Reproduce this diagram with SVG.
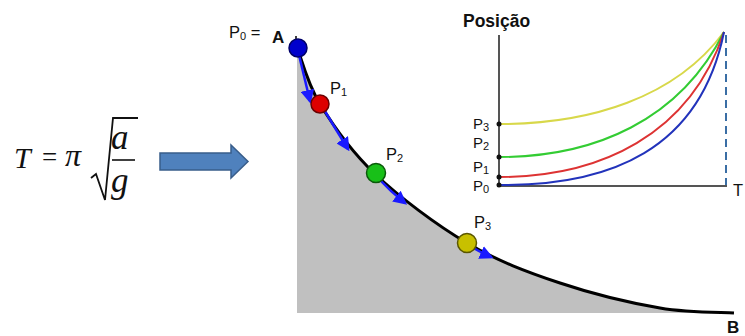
<svg xmlns="http://www.w3.org/2000/svg" width="745" height="336" viewBox="0 0 745 336">
<style>
.lbl{font-family:"Liberation Sans",Arial,sans-serif;font-size:16.5px;fill:#111}
.gl{font-family:"Liberation Sans",Arial,sans-serif;font-size:15px;fill:#111}
.sub{font-size:11px}
.big{font-family:"Liberation Sans",Arial,sans-serif;font-size:17px;font-weight:bold;fill:#111}
.math{font-family:"Liberation Serif","Times New Roman",serif;font-style:italic;fill:#111}
.mv{stroke:#1a1aff;stroke-width:2.5;fill:none;marker-end:url(#ah)}
.pc{fill:none;stroke-width:2}
</style>
<defs>
<marker id="ah" viewBox="0 0 10 10" refX="8" refY="5" markerWidth="5.5" markerHeight="5.5" orient="auto" markerUnits="strokeWidth">
<path d="M0,0 L10,5 L0,10 Z" fill="#1a1aff"/>
</marker>
</defs>
<rect width="745" height="336" fill="#fff"/>

<g id="formula">
<text class="math" x="14" y="168" font-size="30">T</text>
<text x="42" y="166" font-family="Liberation Serif,serif" font-size="27" fill="#111">=</text>
<text class="math" x="65" y="166" font-size="32">π</text>
<path d="M91,178 L96,174 L105,200 L113,118 L138,118" fill="none" stroke="#111" stroke-width="1.8"/>
<text class="math" x="111" y="149" font-size="35">a</text>
<line x1="112" y1="160" x2="135" y2="160" stroke="#111" stroke-width="1.6"/>
<text class="math" x="111" y="192" font-size="35">g</text>
</g>

<g id="arrow">
<path d="M160,153 L231,153 L231,145 L248,161.5 L231,178 L231,170 L160,170 Z" fill="#4f81bd" stroke="#385d8a" stroke-width="1.5"/>
</g>

<g id="ramp">
<path d="M297,47 C300.8,56.5 307,82.8 320,104 C333,125.2 350.5,150.8 375,174 C399.5,197.2 436.2,224.8 467,243 C497.8,261.2 527.8,272.2 560,283 C592.2,293.8 631,303 660,308 C689,313 721.7,312.2 734,313 L297,313 Z" fill="#c0c0c0"/>
<path d="M297,47 C300.8,56.5 307,82.8 320,104 C333,125.2 350.5,150.8 375,174 C399.5,197.2 436.2,224.8 467,243 C497.8,261.2 527.8,272.2 560,283 C592.2,293.8 631,303 660,308 C689,313 721.7,312.2 734,313" fill="none" stroke="#000" stroke-width="3"/>
<line x1="296" y1="36" x2="296" y2="44" stroke="#000" stroke-width="1.5"/>
</g>

<g id="connectors">
<path class="mv" d="M299,55 L310,101"/>
<path class="mv" d="M323,108 Q335,128 348,149"/>
<path class="mv" d="M378,178 Q390,191 405,203"/>
<path class="mv" d="M470,246 Q480,252 491,257"/>
</g>

<g id="P0">
<circle cx="298" cy="48" r="9" fill="#0000cc" stroke="#00006a" stroke-width="1.5"/>
<text class="lbl" x="229" y="38">P<tspan class="sub" dy="2">0</tspan><tspan dy="-2"> =</tspan></text>
<text class="big" x="272" y="43">A</text>
</g>
<g id="P1">
<circle cx="320" cy="104" r="9" fill="#dd0000" stroke="#6a0000" stroke-width="1.5"/>
<text class="lbl" x="330" y="94">P<tspan class="sub" dy="2">1</tspan></text>
</g>
<g id="P2">
<circle cx="376" cy="173" r="9.5" fill="#18c018" stroke="#0a5a0a" stroke-width="1.5"/>
<text class="lbl" x="386" y="160">P<tspan class="sub" dy="2">2</tspan></text>
</g>
<g id="P3">
<circle cx="467" cy="243" r="9.5" fill="#c8c000" stroke="#5a5600" stroke-width="1.5"/>
<text class="lbl" x="474" y="228">P<tspan class="sub" dy="2">3</tspan></text>
</g>
<g id="B">
<text class="big" x="727" y="333">B</text>
</g>

<g id="graph">
<text x="463" y="27" font-family="Liberation Sans,Arial,sans-serif" font-size="17.5" font-weight="bold" fill="#111">Posição</text>
<line x1="499" y1="35" x2="499" y2="186" stroke="#555" stroke-width="2"/>
<line x1="499" y1="186" x2="727" y2="186" stroke="#555" stroke-width="2"/>
<line x1="726" y1="35" x2="726" y2="185" stroke="#3a6ea5" stroke-width="2" stroke-dasharray="8,5"/>
<path class="pc" stroke="#d8d84a" d="M499,124 C590,124 675,98 724,32"/>
<path class="pc" stroke="#33cc33" d="M499,157 C595,157 680,120 724,32"/>
<path class="pc" stroke="#dd3333" d="M499,177 C600,177 690,135 724,32"/>
<path class="pc" stroke="#2233bb" d="M499,185 C610,186 700,150 724,32"/>
<circle cx="499" cy="124" r="2.5" fill="#111"/>
<circle cx="499" cy="157" r="2.5" fill="#111"/>
<circle cx="499" cy="177" r="2.5" fill="#111"/>
<circle cx="499" cy="185" r="2.5" fill="#111"/>
<text class="gl" x="473" y="129">P<tspan class="sub" dy="2">3</tspan></text>
<text class="gl" x="473" y="148">P<tspan class="sub" dy="2">2</tspan></text>
<text class="gl" x="473" y="172">P<tspan class="sub" dy="2">1</tspan></text>
<text class="gl" x="473" y="191">P<tspan class="sub" dy="2">0</tspan></text>
<text class="lbl" x="733" y="196">T</text>
</g>
</svg>
